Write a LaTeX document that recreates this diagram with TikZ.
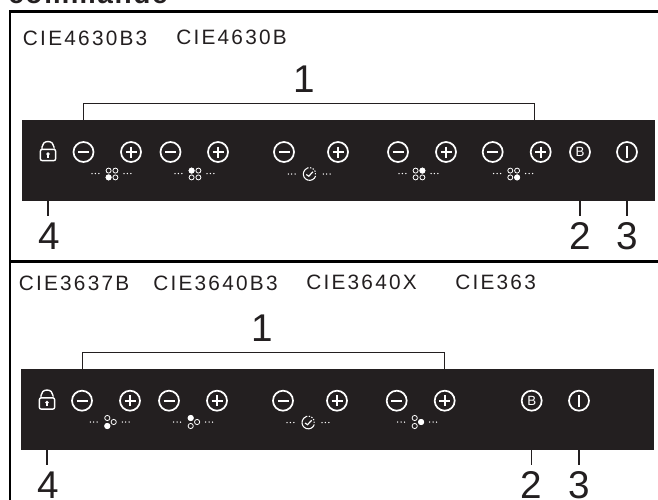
\documentclass[tikz,border=0pt]{standalone}
\usepackage{fontspec}
\setmainfont{Liberation Sans}
\newfontfamily\modelfont[LetterSpace=10.8]{Liberation Sans}
\newfontfamily\headfont[LetterSpace=6]{Liberation Sans}
\definecolor{ink}{HTML}{231F20}
\tikzset{
  panel/.style={fill=ink,draw=none,inner sep=0,minimum width=474.75pt,minimum height=60.75pt},
  btn/.style={circle,draw=white,line width=1.3pt,inner sep=0,minimum size=15pt},
  glyph/.style={draw=white,line width=1.2pt},
  thinw/.style={draw=white,line width=.6pt},
  wfill/.style={fill=white,draw=none},
  model/.style={anchor=base west,inner sep=0,text=ink,font=\modelfont\fontsize{15.6pt}{17pt}\selectfont},
  num/.style={anchor=base,inner sep=0,text=ink,font=\fontsize{29pt}{31pt}\selectfont},
  leader/.style={draw=ink,line width=.85pt},
  bracket/.style={draw=ink,line width=.75pt},
  frameline/.style={draw=black,line width=1.9pt}
}
\newcommand\btnminus[3]{\node[btn] (#1) at (#2,#3) {};
  \draw[glyph,shift={(#1.center)}] (-5.5,0) -- (5.5,0);}
\newcommand\btnplus[3]{\node[btn] (#1) at (#2,#3) {};
  \draw[glyph,shift={(#1.center)}] (-5.5,0) -- (5.5,0) (0,-5.5) -- (0,5.5);}
\newcommand\btnb[3]{\node[btn,text=white,font=\fontsize{10pt}{11pt}\selectfont] (#1) at (#2,#3) {B};}
\newcommand\btnon[3]{\node[btn] (#1) at (#2,#3) {};
  \draw[glyph,shift={(#1.center)}] (0,-6) -- (0,6);}
\newcommand\lockicon[3]{\node[inner sep=0,minimum width=11.5pt,minimum height=8.5pt,draw=white,line width=1.05pt,rounded corners=1.5pt] (#1) at (#2,#3+5.5) {};
  \begin{scope}[shift={(#1.center)}]
  \draw[glyph,line width=1.05pt] (-6,-5.5) -- (-6,-8) arc[start angle=180,end angle=0,x radius=6,y radius=-5.5] -- (6,-8.3);
  \fill[white] (0,-1) circle[radius=1.9];
  \fill[white] (-.9,-1) rectangle (.9,2.7);
  \end{scope}}
\newcommand\dotrow[2]{\foreach \d in {0,3.4,6.8}{\fill[white] (#1+\d,#2) circle[radius=.75];}}
\newcommand\hobfour[4]{\coordinate (#1) at (#2,#3);
  \begin{scope}[shift={(#1)}]
  \foreach \a/\b in {-3.4/-3.4,3.4/-3.4,-3.4/3.4,3.4/3.4}{\draw[thinw] (\a,\b) circle[radius=2.5];}
  \fill[white] #4 circle[radius=3];
  \dotrow{-20}{-.5}
  \dotrow{12}{-.5}
  \end{scope}}
\newcommand\hobthree[4]{\coordinate (#1) at (#2,#3);
  \begin{scope}[shift={(#1)}]
  \foreach \a/\b in {0/-4,0/4,6.4/0}{\draw[thinw] (\a,\b) circle[radius=2.6];}
  \fill[white] #4 circle[radius=3];
  \dotrow{-17}{0}
  \dotrow{15}{0}
  \end{scope}}
\newcommand\clockicon[3]{\coordinate (#1) at (#2,#3);
  \begin{scope}[shift={(#1)}]
  \draw[glyph,line width=.8pt] (6.3,2) arc[start angle=18,end angle=250,radius=6.3];
  \draw[white,line width=.8pt,dash pattern=on 1pt off 1.1pt] (-2,-6) arc[start angle=250,end angle=378,radius=6.3];
  \draw[glyph,line width=.9pt] (-3,.5) -- (-.5,2.2) -- (3.6,-2.2);
  \dotrow{-21}{0}
  \dotrow{14}{0}
  \end{scope}}
\begin{document}
\begin{tikzpicture}[x=.75pt,y=-.75pt]
\useasboundingbox (0,0) rectangle (658,500);
\fill[white] (0,0) rectangle (658,500);
\node[anchor=base west,inner sep=0,text=ink,font=\headfont\bfseries\fontsize{21pt}{23pt}\selectfont] (head) at (8,3) {commande};
\draw[frameline] (658,11.5) -- (10,11.5) -- (10,500);
\draw[frameline] (10,261.5) -- (658,261.5);
% upper panel
\node[model] (mA) at (22.7,45) {CIE4630B3};
\node[model] (mB) at (176,44) {CIE4630B};
\node[panel] (pA) at (338.5,160.5) {};
\lockicon{lockA}{48}{149.5}
\btnminus{a1}{83.5}{152}\btnplus{a2}{131}{152}
\btnminus{a3}{170.5}{152}\btnplus{a4}{218}{152}
\btnminus{a5}{284}{152}\btnplus{a6}{338}{152}
\btnminus{a7}{398}{152}\btnplus{a8}{446}{152}
\btnminus{a9}{492.7}{152}\btnplus{a10}{540.7}{152}
\btnb{bA}{580}{152}\btnon{onA}{627}{152}
\hobfour{hA1}{112}{174}{(-3.4,3.4)}
\hobfour{hA2}{195}{174}{(-3.4,-3.4)}
\clockicon{cA}{309.3}{174}
\hobfour{hA3}{419}{174}{(3.4,-3.4)}
\hobfour{hA4}{513.7}{174}{(3.4,3.4)}
\node[num] (nA1) at (304,92) {1};
\node[num] (nA2) at (580,249.5) {2};
\node[num] (nA3) at (627,249.5) {3};
\node[num] (nA4) at (49,249.5) {4};
\coordinate (brA) at (534.7,103);
\draw[bracket] (a1 |- pA.north) -- (a1 |- brA) -- (brA) -- (brA |- pA.north);
\coordinate (lA) at (0,216);
\draw[leader] (lockA |- pA.south) -- (lockA |- lA);
\draw[leader] (bA |- pA.south) -- (bA |- lA);
\draw[leader] (onA |- pA.south) -- (onA |- lA);
% lower panel
\node[model] (mC) at (18.5,290.5) {CIE3637B};
\node[model] (mD) at (153,290.5) {CIE3640B3};
\node[model] (mE) at (306,289) {CIE3640X};
\node[model] (mF) at (455,289) {CIE363};
\node[panel] (pB) at (337.5,409.5) {};
\lockicon{lockB}{47}{398}
\btnminus{b1}{82}{400.7}\btnplus{b2}{130}{400.7}
\btnminus{b3}{169}{400.7}\btnplus{b4}{217}{400.7}
\btnminus{b5}{283}{400.7}\btnplus{b6}{337}{400.7}
\btnminus{b7}{396.7}{400.7}\btnplus{b8}{444.7}{400.7}
\btnb{bB}{531.7}{400.7}\btnon{onB}{579}{400.7}
\hobthree{hB1}{107.3}{422}{(0,4)}
\hobthree{hB2}{190.7}{422}{(0,-4)}
\clockicon{cB}{308}{422.5}
\hobthree{hB3}{414.7}{422}{(6.4,0)}
\node[num] (nB1) at (262,341.7) {1};
\node[num] (nB2) at (531.7,498) {2};
\node[num] (nB3) at (579,498) {3};
\node[num] (nB4) at (48,498) {4};
\coordinate (brB) at (0,352);
\draw[bracket] (b1 |- pB.north) -- (b1 |- brB) -- (b8 |- brB) -- (b8 |- pB.north);
\coordinate (lB) at (0,465);
\draw[leader] (lockB |- pB.south) -- (lockB |- lB);
\draw[leader] (bB |- pB.south) -- (bB |- lB);
\draw[leader] (onB |- pB.south) -- (onB |- lB);
\end{tikzpicture}
\end{document}
